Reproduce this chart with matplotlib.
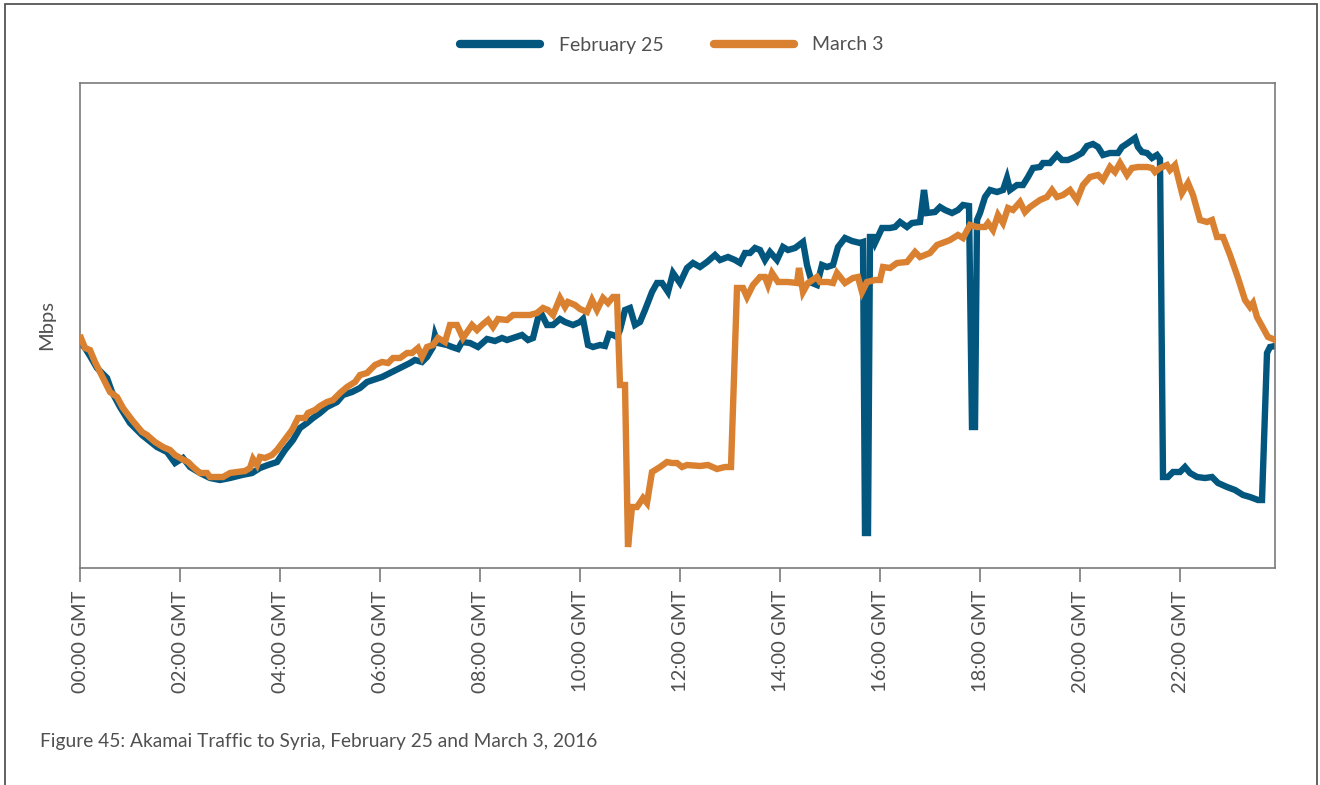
import matplotlib
matplotlib.use("Agg")
import matplotlib.pyplot as plt
from matplotlib.patches import Rectangle

# ----------------------------------------
# data (hours GMT, relative Mbps)
# ----------------------------------------
feb_hours = [
    0.00, 0.10, 0.20, 0.34, 0.54, 0.64, 0.80, 1.00, 1.24, 1.54, 1.74, 1.90, 2.06, 2.20, 2.40,
    2.60, 2.80, 3.00, 3.24, 3.44, 3.60, 3.76, 3.94, 4.10, 4.26, 4.40, 4.54, 4.66, 4.80, 4.94,
    5.14, 5.26, 5.44, 5.60, 5.74, 5.86, 6.04, 6.20, 6.40, 6.60, 6.70, 6.84, 6.94, 7.06, 7.10,
    7.16, 7.34, 7.44, 7.56, 7.64, 7.80, 7.96, 8.14, 8.30, 8.44, 8.54, 8.66, 8.84, 8.96, 9.06,
    9.16, 9.24, 9.34, 9.46, 9.60, 9.70, 9.86, 10.00, 10.06, 10.16, 10.26, 10.40, 10.50, 10.58,
    10.66, 10.74, 10.80, 10.90, 11.00, 11.10, 11.20, 11.30, 11.44, 11.54, 11.64, 11.76, 11.86,
    12.00, 12.14, 12.26, 12.40, 12.54, 12.70, 12.80, 12.96, 13.10, 13.20, 13.30, 13.40, 13.50,
    13.60, 13.70, 13.80, 13.94, 14.06, 14.16, 14.30, 14.46, 14.54, 14.64, 14.74, 14.84, 14.94,
    15.06, 15.16, 15.30, 15.44, 15.60, 15.66, 15.70, 15.76, 15.80, 15.86, 15.90, 16.04, 16.20,
    16.30, 16.40, 16.54, 16.64, 16.80, 16.88, 16.94, 17.10, 17.20, 17.30, 17.44, 17.56, 17.66,
    17.78, 17.84, 17.90, 17.94, 18.00, 18.10, 18.20, 18.34, 18.46, 18.54, 18.60, 18.74, 18.86,
    18.96, 19.06, 19.20, 19.26, 19.40, 19.54, 19.64, 19.76, 19.90, 20.04, 20.14, 20.26, 20.36,
    20.46, 20.60, 20.76, 20.84, 20.96, 21.10, 21.16, 21.24, 21.34, 21.44, 21.54, 21.60, 21.66,
    21.76, 21.86, 22.00, 22.10, 22.20, 22.34, 22.50, 22.64, 22.76, 22.94, 23.10, 23.26, 23.40,
    23.56, 23.64, 23.74, 23.80, 23.90,
]
feb_mbps = [
    226, 220, 212, 200, 190, 176, 161, 145, 133, 121, 116, 105, 110, 101, 95,
    90, 88, 90, 93, 95, 100, 103, 106, 118, 128, 140, 145, 150, 155, 161,
    166, 173, 176, 180, 186, 188, 191, 195, 200, 205, 208, 206, 211, 221, 233,
    225, 223, 221, 219, 226, 225, 221, 229, 227, 230, 228, 230, 233, 228, 230,
    250, 253, 243, 243, 249, 246, 243, 246, 249, 223, 221, 223, 222, 234,
    233, 231, 238, 258, 260, 243, 246, 258, 276, 285, 285, 276, 295,
    285, 300, 305, 301, 306, 313, 308, 311, 308, 305, 315, 315, 320,
    318, 308, 316, 308, 321, 318, 320, 326, 303, 285, 283, 303, 301,
    303, 321, 330, 327, 325, 326, 35, 35, 331, 331, 325, 340, 340,
    341, 346, 341, 345, 346, 378, 355, 356, 361, 358, 355, 358, 363,
    362, 141, 141, 348, 355, 371, 378, 376, 378, 390, 378, 383, 383,
    391, 400, 401, 405, 405, 413, 408, 408, 411, 415, 422, 424, 421,
    413, 415, 415, 421, 425, 430, 421, 416, 415, 410, 413, 409, 91,
    91, 96, 96, 101, 95, 91, 90, 91, 85, 81, 78, 73, 71,
    68, 68, 215, 221, 222,
]

mar_hours = [
    0.02, 0.10, 0.20, 0.30, 0.46, 0.60, 0.74, 0.86, 1.04, 1.24, 1.34, 1.50, 1.66, 1.80, 1.90,
    2.04, 2.16, 2.26, 2.40, 2.54, 2.60, 2.74, 2.86, 3.00, 3.14, 3.30, 3.40, 3.46, 3.54, 3.60,
    3.70, 3.84, 3.94, 4.06, 4.24, 4.36, 4.50, 4.56, 4.70, 4.80, 4.94, 5.06, 5.20, 5.34, 5.50,
    5.60, 5.74, 5.90, 6.04, 6.16, 6.26, 6.40, 6.54, 6.64, 6.76, 6.84, 6.94, 7.06, 7.16, 7.30,
    7.40, 7.54, 7.66, 7.84, 7.94, 8.04, 8.16, 8.26, 8.36, 8.54, 8.66, 8.80, 9.00, 9.14, 9.26,
    9.36, 9.46, 9.60, 9.70, 9.76, 9.90, 10.00, 10.14, 10.24, 10.34, 10.46, 10.56, 10.66, 10.74,
    10.80, 10.90, 10.96, 11.04, 11.14, 11.26, 11.34, 11.44, 11.60, 11.74, 11.84, 11.94, 12.04,
    12.14, 12.40, 12.56, 12.74, 12.90, 13.02, 13.14, 13.26, 13.34, 13.46, 13.60, 13.70, 13.76,
    13.84, 13.96, 14.16, 14.34, 14.38, 14.46, 14.56, 14.74, 14.80, 14.96, 15.06, 15.14, 15.30,
    15.46, 15.56, 15.64, 15.74, 15.90, 16.00, 16.06, 16.20, 16.34, 16.54, 16.70, 16.80, 17.00,
    17.14, 17.30, 17.40, 17.56, 17.66, 17.80, 17.94, 18.10, 18.16, 18.26, 18.36, 18.46, 18.56,
    18.66, 18.80, 18.90, 19.00, 19.20, 19.34, 19.44, 19.54, 19.66, 19.80, 19.94, 20.06, 20.20,
    20.36, 20.46, 20.60, 20.70, 20.80, 20.94, 21.04, 21.16, 21.34, 21.44, 21.50, 21.60, 21.74,
    21.80, 21.90, 22.04, 22.16, 22.26, 22.40, 22.54, 22.64, 22.74, 22.86, 23.00, 23.16, 23.30,
    23.40, 23.46, 23.54, 23.66, 23.76, 23.86, 23.90,
]
mar_mbps = [
    230, 220, 218, 206, 190, 176, 171, 160, 148, 136, 133, 126, 121, 118, 113,
    109, 106, 101, 95, 95, 91, 91, 91, 95, 96, 97, 100, 109, 103, 111,
    110, 113, 118, 126, 138, 150, 150, 155, 158, 162, 166, 168, 175, 181, 186,
    193, 195, 203, 206, 205, 210, 210, 215, 215, 220, 211, 221, 223, 230, 226,
    243, 243, 230, 243, 238, 243, 248, 241, 249, 248, 253, 253, 253, 255, 260,
    258, 253, 270, 261, 266, 263, 259, 256, 268, 258, 270, 265, 271, 271,
    183, 183, 21, 61, 61, 70, 65, 96, 101, 106, 105, 105, 101,
    103, 102, 103, 99, 101, 101, 280, 280, 271, 283, 291, 291, 283,
    295, 286, 286, 285, 300, 276, 285, 291, 286, 286, 285, 295, 285,
    290, 291, 276, 286, 288, 288, 301, 300, 305, 306, 316, 311, 315,
    323, 326, 328, 333, 330, 343, 341, 341, 345, 338, 353, 345, 360,
    358, 366, 356, 361, 368, 371, 378, 371, 373, 378, 368, 383, 391,
    393, 388, 401, 396, 405, 393, 400, 401, 401, 400, 396, 400, 403,
    398, 403, 375, 385, 373, 348, 346, 348, 331, 331, 313, 290, 268,
    261, 265, 251, 240, 231, 229, 228,
]

tick_hours = list(range(0, 24, 2))
tick_labels = [f"{h:02d}:00 GMT" for h in tick_hours]
series_labels = ["February 25", "March 3"]
caption = "Figure 45: Akamai Traffic to Syria, February 25 and March 3, 2016"

BLUE = "#03577f"
ORANGE = "#d98131"
GRAY = "#7a7a7a"
TEXT = "#505050"

plt.rcParams["font.family"] = ["Lato", "DejaVu Sans"]

fig = plt.figure(figsize=(13.2, 7.85), dpi=100)
ax = fig.add_axes([80 / 1320, 1 - 568 / 785, (1275 - 80) / 1320, (568 - 83) / 785])

ax.plot(feb_hours, feb_mbps, color=BLUE, lw=4.6, solid_joinstyle="miter",
        label=series_labels[0], zorder=2)
ax.plot(mar_hours, mar_mbps, color=ORANGE, lw=4.6, solid_joinstyle="miter",
        label=series_labels[1], zorder=3)

ax.set_xlim(0, 23.9)
ax.set_ylim(0, 485)
ax.set_xticks(tick_hours)
ax.set_xticklabels(tick_labels, rotation=90, fontsize=14.5, color=TEXT)
ax.set_yticks([])
ax.tick_params(axis="x", length=10, width=1.2, color=GRAY, pad=6)
for s in ax.spines.values():
    s.set_color(GRAY)
    s.set_linewidth(1.2)

ax.set_ylabel("Mbps", fontsize=14.5, color=TEXT, labelpad=18)

leg = fig.legend(
    loc="center", bbox_to_anchor=(672 / 1320, 1 - 45 / 785), ncol=2,
    frameon=False, fontsize=14, handlelength=4.1, columnspacing=2.6,
    handletextpad=0.95,
)
for line in leg.get_lines():
    line.set_linewidth(6)
    line.set_solid_capstyle("round")
for t in leg.get_texts():
    t.set_color(TEXT)

fig.text(40 / 1320, 1 - 742 / 785, caption, fontsize=13.8, color=TEXT, va="center")

# outer frame (bottom edge runs off the page)
fig.patches.append(Rectangle((5 / 1320, -0.05), (1317 - 5) / 1320, 1.05 - 4 / 785,
                             transform=fig.transFigure, fill=False,
                             edgecolor="#555555", linewidth=1.3))

fig.savefig("out.png", dpi=100)
